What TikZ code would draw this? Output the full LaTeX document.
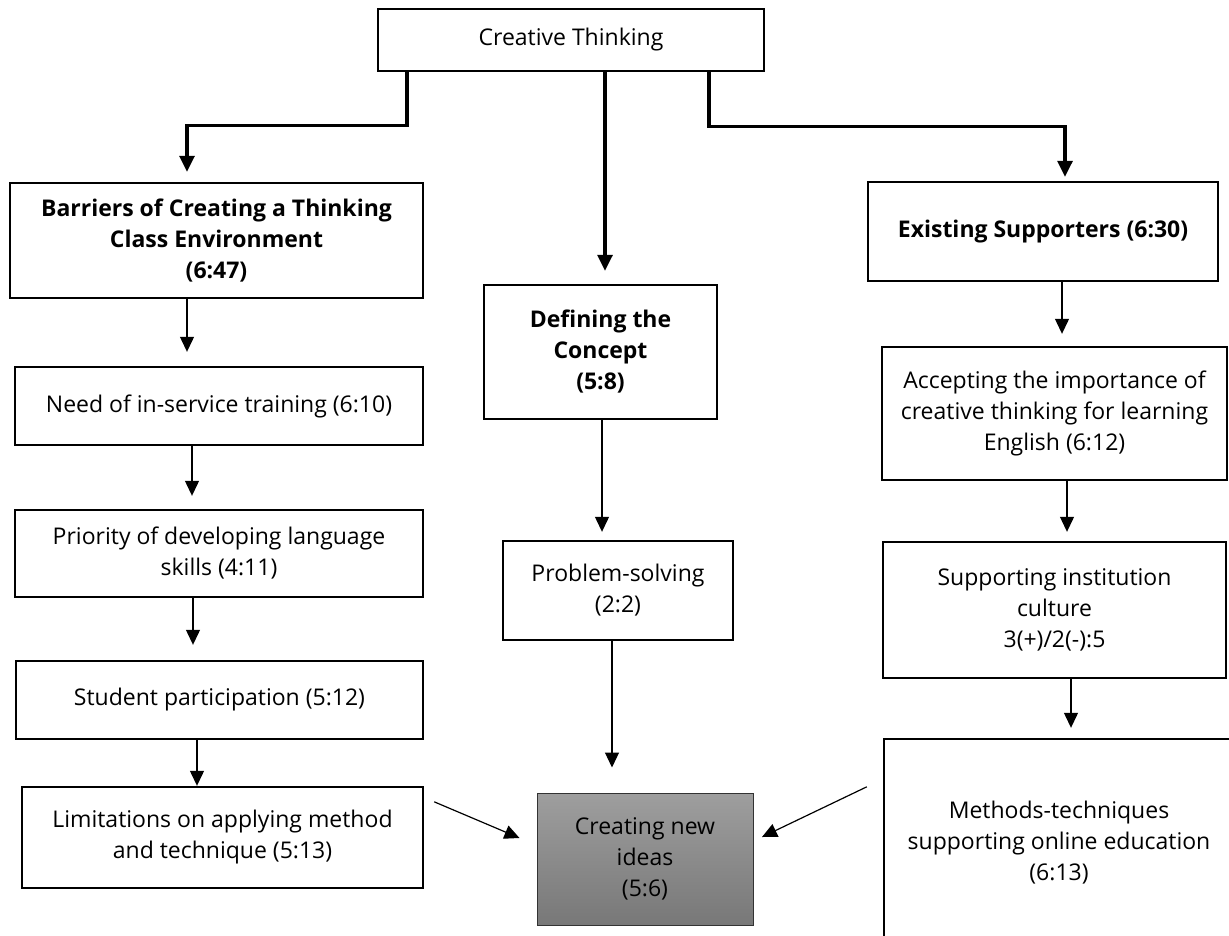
\documentclass[tikz,border=0pt]{standalone}
\usepackage{fontspec}
\setmainfont{Open Sans}
\usetikzlibrary{arrows.meta}

\newcommand\boxfont{\fontsize{23}{31}\selectfont}

\begin{document}
\begin{tikzpicture}[x=1pt, y=-1pt,
    box/.style={draw, line width=2.4pt, align=center, inner sep=0pt, font=\boxfont},
    head/.style={box, font=\boxfont\bfseries},
    thinarr/.style={line width=1.2pt, -{Triangle[width=14pt,length=15pt]}},
    thickarr/.style={line width=3.2pt, -{Triangle[width=15pt,length=16pt]}}]

    % Page frame
    \clip (0,0) rectangle (1229,935);

    % Top box
    \node[box, minimum width=386, minimum height=62] (ct) at (571,40) {Creative Thinking};

    % Left column
    \node[head, minimum width=413, minimum height=115] (barr) at (216.5,240.5) {Barriers of Creating a Thinking\\Class Environment\\(6:47)};
    \node[box, minimum width=408, minimum height=78] (need) at (219,406) {Need of in-service training (6:10)};
    \node[box, minimum width=408, minimum height=87] (prio) at (219,553.5) {Priority of developing language\\skills (4:11)};
    \node[box, minimum width=407, minimum height=78] (stud) at (219.5,700) {Student participation (5:12)};
    \node[box, minimum width=401, minimum height=101] (lim) at (222.5,837.5) {Limitations on applying method\\and technique (5:13)};

    % Middle column
    \node[head, minimum width=233, minimum height=134] (def) at (600.5,352) {Defining the\\Concept\\(5:8)};
    \node[box, minimum width=230, minimum height=99] (prob) at (618,590.5) {Problem-solving\\(2:2)};
    \node[box, line width=1pt, draw=black!80, top color=black!38, bottom color=black!53,
          minimum width=216, minimum height=132] (gray) at (645,859) {Creating new\\ideas\\(5:6)};

    % Right column
    \node[head, minimum width=350, minimum height=99] (exist) at (1043,231.5) {Existing Supporters (6:30)};
    \node[box, minimum width=345, minimum height=133] (acc) at (1054.5,413.5) {Accepting the importance of\\creative thinking for learning\\English (6:12)};
    \node[box, minimum width=343, minimum height=136] (supp) at (1054.5,610) {Supporting institution\\culture\\3(+)/2(-):5};
    \node[box, minimum width=350, minimum height=208] (meth) at (1059,843) {Methods-techniques\\supporting online education\\(6:13)};

    % Branches from the top
    \draw[thickarr, shorten >=10pt] ([xshift=-164pt]ct.south) -- ++(0,53) -| ([xshift=-29.5pt]barr.north);
    \draw[thickarr, shorten >=13pt] ([xshift=34pt]ct.south) -- ([xshift=4.5pt]def.north);
    \draw[thickarr, shorten >=4pt] ([xshift=138pt]ct.south) -- ++(0,54) -| ([xshift=22pt]exist.north);

    % Left chain
    \draw[thinarr, shorten >=14pt] ([xshift=-29.5pt]barr.south) -- ([xshift=-32pt]need.north);
    \draw[thinarr, shorten >=13pt] ([xshift=-27pt]need.south) -- ([xshift=-27pt]prio.north);
    \draw[thinarr, shorten >=15pt] ([xshift=-26pt]prio.south) -- ([xshift=-26.5pt]stud.north);
    \draw[thinarr] ([xshift=-22.5pt]stud.south) -- ([xshift=-25.5pt]lim.north);

    % Middle chain
    \draw[thinarr, shorten >=8pt] ([xshift=1.5pt]def.south) -- ([xshift=-16pt]prob.north);
    \draw[thinarr, shorten >=25pt] ([xshift=-6pt]prob.south) -- ([xshift=-33pt]gray.north);

    % Right chain
    \draw[thinarr, shorten >=12pt] ([xshift=19pt]exist.south) -- ([xshift=7.5pt]acc.north);
    \draw[thinarr, shorten >=9pt] ([xshift=12.5pt]acc.south) -- ([xshift=12.5pt]supp.north);
    \draw[thinarr, shorten >=10pt] ([xshift=16.5pt]supp.south) -- ([xshift=12pt]meth.north);

    % Into the result
    \draw[thinarr] ([shift={(10,16)}]lim.north east) -- ([shift={(-17,-21)}]gray.west);
    \draw[thinarr] ([shift={(-16,49)}]meth.north west) -- ([shift={(8.5,-22)}]gray.east);

\end{tikzpicture}
\end{document}
